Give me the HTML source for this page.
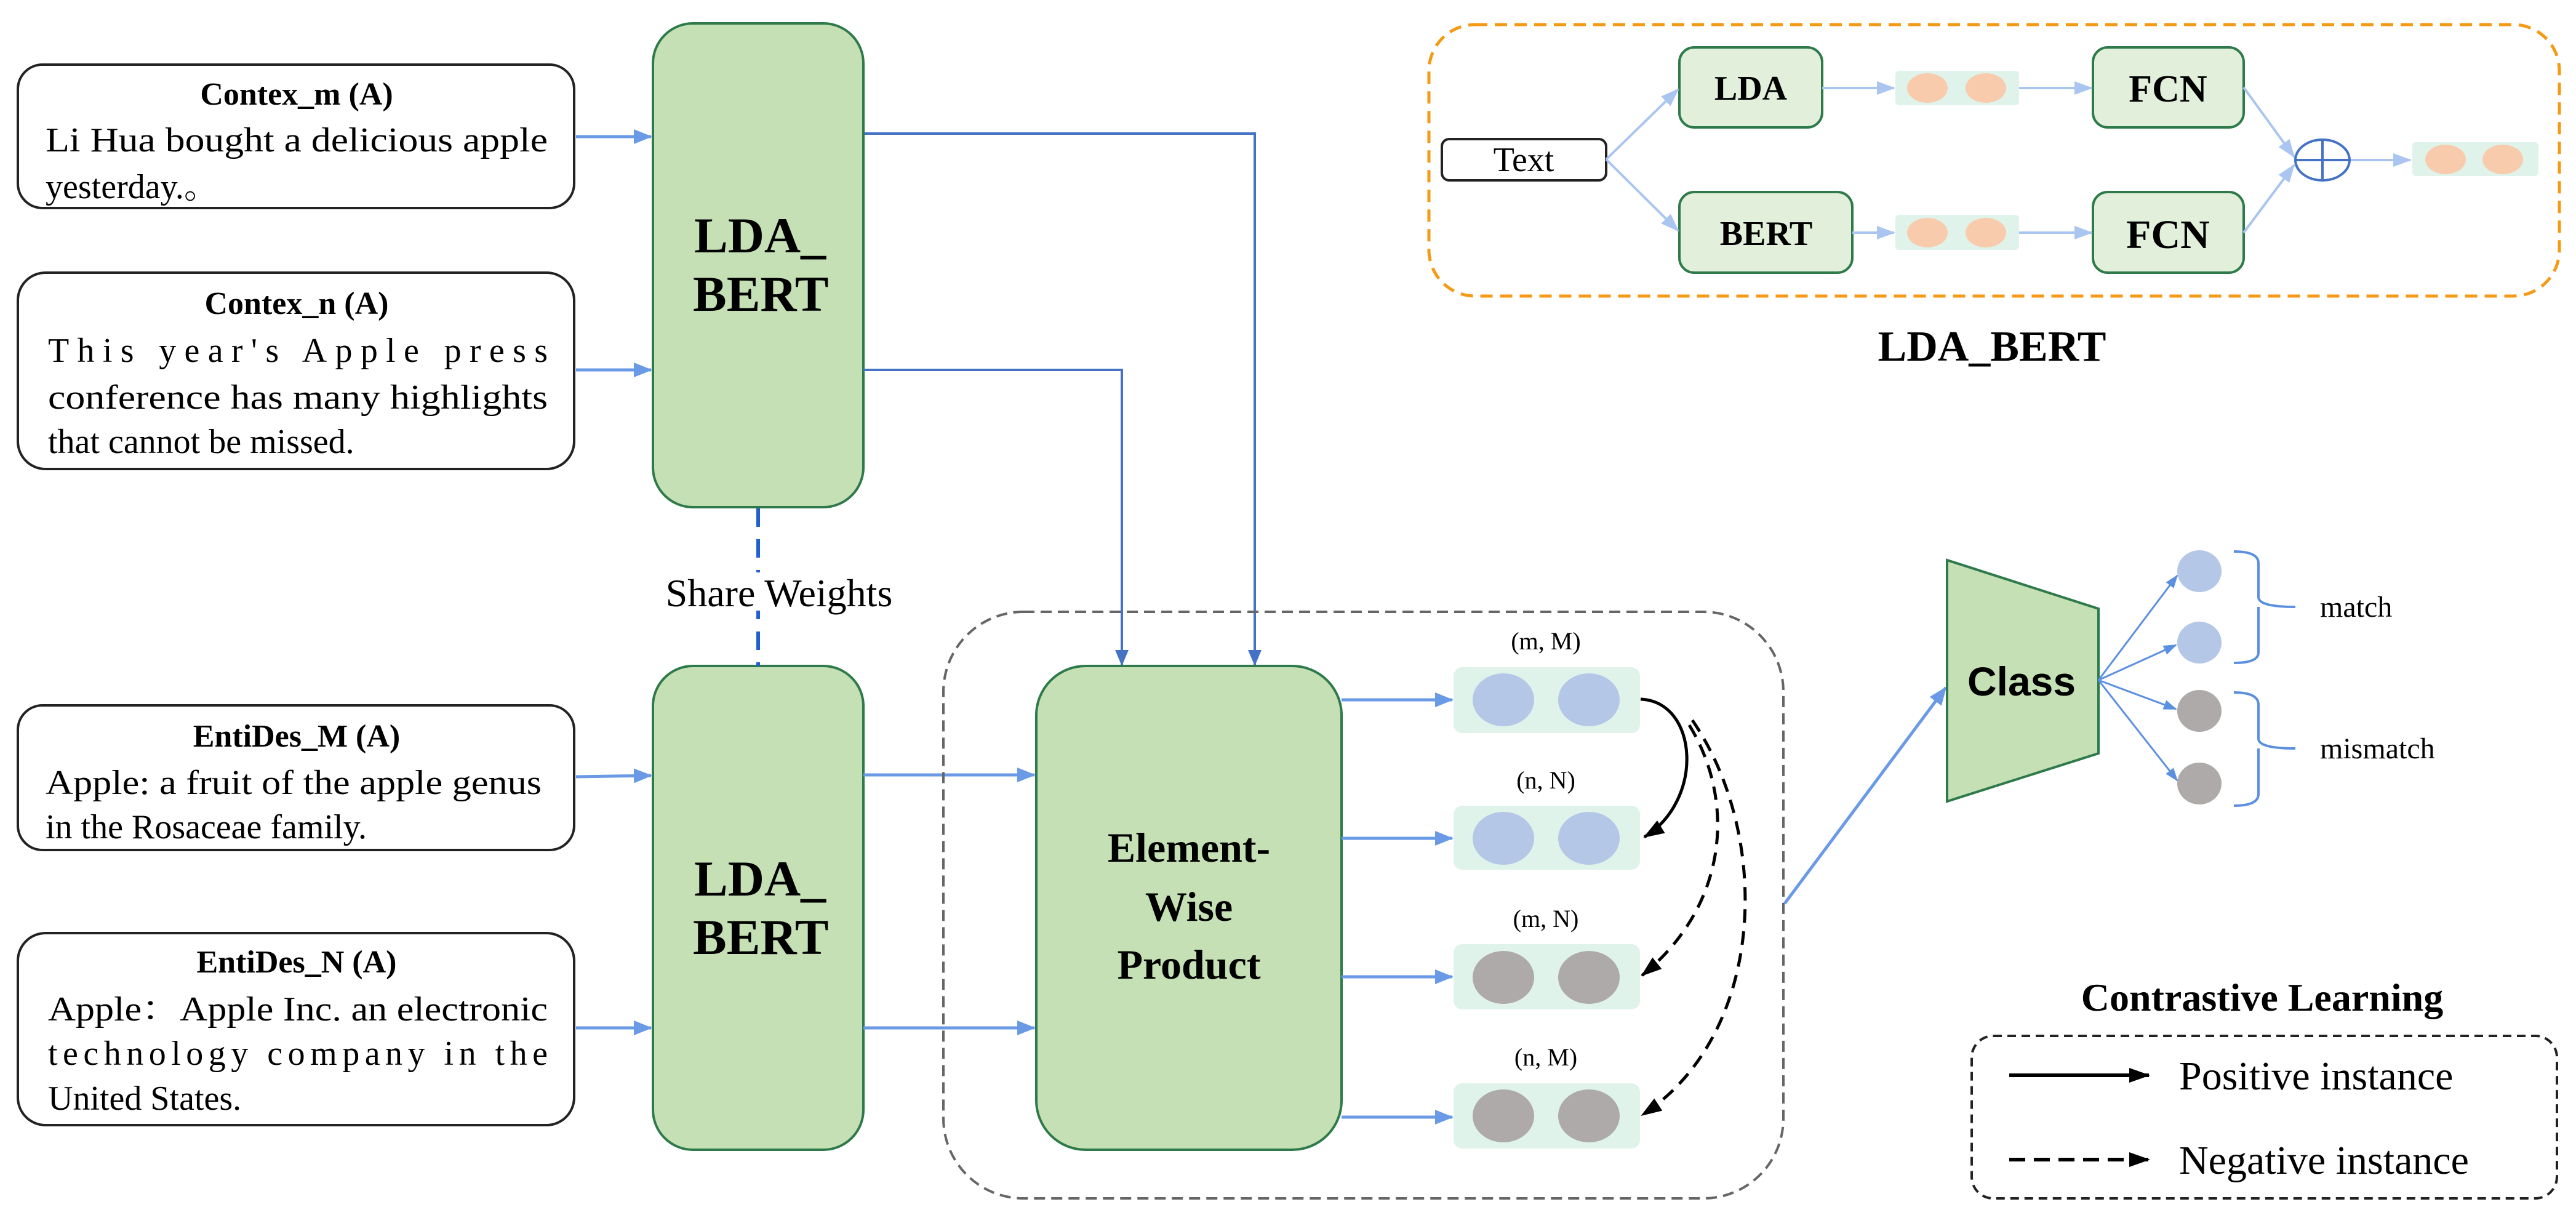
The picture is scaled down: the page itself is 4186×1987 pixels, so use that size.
<!DOCTYPE html>
<html><head><meta charset="utf-8"><style>
html,body{margin:0;padding:0;background:#fff;}
svg{display:block;}
text{font-family:"Liberation Serif","Times New Roman",serif;}
text.sans{font-family:"Liberation Sans",Arial,sans-serif;}
text.cjk{font-family:"Liberation Serif","Noto Serif CJK SC",serif;}
</style></head><body>
<svg width="4186" height="1987" viewBox="0 0 4186 1987" xmlns="http://www.w3.org/2000/svg" font-family="Liberation Serif, serif">
<defs>
<marker id="abL" markerWidth="30" markerHeight="30" refX="28" refY="15" orient="auto" markerUnits="userSpaceOnUse" viewBox="0 0 30 30"><path d="M0,3L30,15L0,27z" fill="#6a9ae6"/></marker>
<marker id="abD" markerWidth="26" markerHeight="30" refX="24" refY="15" orient="auto" markerUnits="userSpaceOnUse" viewBox="0 0 26 30"><path d="M0,4L26,15L0,26z" fill="#4472c4"/></marker>
<marker id="abP" markerWidth="30" markerHeight="30" refX="28" refY="15" orient="auto" markerUnits="userSpaceOnUse" viewBox="0 0 30 30"><path d="M0,4L30,15L0,26z" fill="#a9c5f0"/></marker>
<marker id="abK" markerWidth="34" markerHeight="30" refX="32" refY="15" orient="auto" markerUnits="userSpaceOnUse" viewBox="0 0 34 30"><path d="M0,3L34,15L0,27z" fill="#000"/></marker>
<marker id="abS" markerWidth="22" markerHeight="22" refX="20" refY="11" orient="auto" markerUnits="userSpaceOnUse" viewBox="0 0 22 22"><path d="M0,3L22,11L0,19z" fill="#5b8fe0"/></marker>
</defs>

<g stroke="#222" stroke-width="4" fill="#fff">
<rect x="29" y="105" width="904" height="233" rx="40"/>
<rect x="29" y="443" width="904" height="319" rx="45"/>
<rect x="29" y="1146" width="904" height="235" rx="40"/>
<rect x="29" y="1516" width="904" height="312" rx="45"/>
</g>
<g font-size="56" fill="#000">
<text x="482" y="170" text-anchor="middle" font-weight="bold" font-size="52">Contex_m (A)</text>
<text x="74" y="246" textLength="816" lengthAdjust="spacingAndGlyphs">Li Hua bought a delicious apple</text>
<text x="74" y="322" class="cjk">yesterday.。</text>
<text x="482" y="510" text-anchor="middle" font-weight="bold" font-size="52">Contex_n (A)</text>
<text x="78" y="588" textLength="812" lengthAdjust="spacing">This year's Apple press</text>
<text x="78" y="664" textLength="812" lengthAdjust="spacingAndGlyphs">conference has many highlights</text>
<text x="78" y="736">that cannot be missed.</text>
<text x="482" y="1213" text-anchor="middle" font-weight="bold" font-size="52">EntiDes_M (A)</text>
<text x="74" y="1290" textLength="806" lengthAdjust="spacingAndGlyphs">Apple: a fruit of the apple genus</text>
<text x="74" y="1362">in the Rosaceae family.</text>
<text x="482" y="1580" text-anchor="middle" font-weight="bold" font-size="52">EntiDes_N (A)</text>
<text x="78" y="1658" textLength="812" lengthAdjust="spacingAndGlyphs" class="cjk">Apple：Apple Inc. an electronic</text>
<text x="78" y="1730" textLength="812" lengthAdjust="spacing">technology company in the</text>
<text x="78" y="1803">United States.</text>
</g>

<g fill="#c5e0b4" stroke="#2e7a4a" stroke-width="4">
<rect x="1061" y="38" width="342" height="786" rx="65"/>
<rect x="1061" y="1082" width="342" height="786" rx="65"/>
</g>
<g font-weight="bold" font-size="82">
<text x="1128" y="410">LDA_</text>
<text x="1126" y="505">BERT</text>
<text x="1128" y="1455">LDA_</text>
<text x="1126" y="1550">BERT</text>
</g>

<g stroke="#6a9ae6" stroke-width="5" fill="none">
<line x1="936" y1="222" x2="1058" y2="222" marker-end="url(#abL)"/>
<line x1="936" y1="601" x2="1058" y2="601" marker-end="url(#abL)"/>
<line x1="936" y1="1262" x2="1058" y2="1260" marker-end="url(#abL)"/>
<line x1="936" y1="1670" x2="1058" y2="1670" marker-end="url(#abL)"/>
<line x1="1403" y1="1259" x2="1681" y2="1259" marker-end="url(#abL)"/>
<line x1="1403" y1="1670" x2="1681" y2="1670" marker-end="url(#abL)"/>
</g>
<g stroke="#4472c4" stroke-width="4" fill="none">
<polyline points="1405,217 2039,217 2039,1080" marker-end="url(#abD)"/>
<polyline points="1403,601 1823,601 1823,1080" marker-end="url(#abD)"/>
</g>
<line x1="1232" y1="826" x2="1232" y2="1082" stroke="#1f5fcf" stroke-width="6" stroke-dasharray="30,20"/>
<rect x="1035" y="930" width="462" height="62" fill="#fff"/>
<text x="1266" y="985" text-anchor="middle" font-size="64">Share Weights</text>

<rect x="1533" y="994" width="1365" height="953" rx="130" fill="none" stroke="#666" stroke-width="4" stroke-dasharray="18,10"/>

<rect x="1684" y="1082" width="496" height="786" rx="80" fill="#c5e0b4" stroke="#2e7a4a" stroke-width="4"/>
<g font-weight="bold" font-size="68" text-anchor="middle">
<text x="1932" y="1400">Element-</text>
<text x="1932" y="1496">Wise</text>
<text x="1932" y="1590">Product</text>
</g>

<g fill="#dff3ea">
<rect x="2362" y="1084" width="303" height="107" rx="14"/>
<rect x="2362" y="1309" width="303" height="104" rx="14"/>
<rect x="2362" y="1534" width="303" height="106" rx="14"/>
<rect x="2362" y="1760" width="303" height="106" rx="14"/>
</g>
<g fill="#b4c7e7">
<ellipse cx="2443" cy="1137" rx="50" ry="43"/><ellipse cx="2582" cy="1137" rx="50" ry="43"/>
<ellipse cx="2443" cy="1362" rx="50" ry="43"/><ellipse cx="2582" cy="1362" rx="50" ry="43"/>
</g>
<g fill="#aeaaaa">
<ellipse cx="2443" cy="1588" rx="50" ry="43"/><ellipse cx="2582" cy="1588" rx="50" ry="43"/>
<ellipse cx="2443" cy="1813" rx="50" ry="43"/><ellipse cx="2582" cy="1813" rx="50" ry="43"/>
</g>
<g font-size="40" text-anchor="middle">
<text x="2512" y="1055">(m, M)</text>
<text x="2512" y="1281">(n, N)</text>
<text x="2512" y="1506">(m, N)</text>
<text x="2512" y="1731">(n, M)</text>
</g>
<g stroke="#6a9ae6" stroke-width="5">
<line x1="2180" y1="1137" x2="2360" y2="1137" marker-end="url(#abL)"/>
<line x1="2180" y1="1362" x2="2360" y2="1362" marker-end="url(#abL)"/>
<line x1="2180" y1="1587" x2="2360" y2="1587" marker-end="url(#abL)"/>
<line x1="2180" y1="1815" x2="2360" y2="1815" marker-end="url(#abL)"/>
</g>
<g fill="none" stroke="#000" stroke-width="5">
<path d="M2666,1136 C2760,1140 2770,1300 2672,1360" marker-end="url(#abK)"/>
<path d="M2745,1178 C2820,1300 2810,1470 2668,1585" stroke-dasharray="22,14" marker-end="url(#abK)"/>
<path d="M2750,1170 C2880,1360 2870,1680 2668,1812" stroke-dasharray="22,14" marker-end="url(#abK)"/>
</g>

<line x1="2900" y1="1468" x2="3162" y2="1117" stroke="#6a9ae6" stroke-width="5" marker-end="url(#abL)"/>
<polygon points="3164,910 3410,989 3410,1224 3164,1302" fill="#c5e0b4" stroke="#2e7a4a" stroke-width="4"/>
<text x="3285" y="1130" text-anchor="middle" class="sans" font-weight="bold" font-size="66">Class</text>
<g stroke="#5b8fe0" stroke-width="3">
<line x1="3410" y1="1105" x2="3538" y2="935" marker-end="url(#abS)"/>
<line x1="3410" y1="1105" x2="3536" y2="1048" marker-end="url(#abS)"/>
<line x1="3410" y1="1105" x2="3536" y2="1152" marker-end="url(#abS)"/>
<line x1="3410" y1="1105" x2="3538" y2="1268" marker-end="url(#abS)"/>
</g>
<ellipse cx="3574" cy="928" rx="36" ry="34" fill="#b4c7e7"/>
<ellipse cx="3574" cy="1044" rx="36" ry="34" fill="#b4c7e7"/>
<ellipse cx="3574" cy="1155" rx="36" ry="34" fill="#aeaaaa"/>
<ellipse cx="3574" cy="1273" rx="36" ry="34" fill="#aeaaaa"/>
<g fill="none" stroke="#5b8fe0" stroke-width="4">
<path d="M3630,896 Q3670,896 3670,915 L3670,970 Q3670,986 3730,986 M3670,986 L3670,1060 Q3670,1077 3630,1077"/>
<path d="M3630,1125 Q3670,1125 3670,1145 L3670,1200 Q3670,1216 3730,1216 M3670,1216 L3670,1290 Q3670,1309 3630,1309"/>
</g>
<g font-size="48">
<text x="3770" y="1002">match</text>
<text x="3770" y="1232">mismatch</text>
</g>

<text x="3676" y="1642" text-anchor="middle" font-weight="bold" font-size="64">Contrastive Learning</text>
<rect x="3204" y="1683" width="951" height="264" rx="35" fill="none" stroke="#222" stroke-width="4" stroke-dasharray="14,9"/>
<line x1="3265" y1="1747" x2="3492" y2="1747" stroke="#000" stroke-width="6" marker-end="url(#abK)"/>
<line x1="3265" y1="1884" x2="3492" y2="1884" stroke="#000" stroke-width="6" stroke-dasharray="26,14" marker-end="url(#abK)"/>
<g font-size="66">
<text x="3541" y="1770">Positive instance</text>
<text x="3541" y="1907">Negative instance</text>
</g>

<rect x="2322" y="40" width="1837" height="441" rx="75" fill="none" stroke="#f59a14" stroke-width="5" stroke-dasharray="20,12"/>
<rect x="2343" y="226" width="267" height="67" rx="12" fill="#fff" stroke="#222" stroke-width="4"/>
<text x="2476" y="278" text-anchor="middle" font-size="56">Text</text>
<g fill="#e2efda" stroke="#2e7a4a" stroke-width="4">
<rect x="2729" y="77" width="232" height="130" rx="24"/>
<rect x="2729" y="312" width="281" height="131" rx="24"/>
<rect x="3401" y="77" width="245" height="130" rx="24"/>
<rect x="3401" y="312" width="245" height="131" rx="24"/>
</g>
<g font-weight="bold" text-anchor="middle">
<text x="2845" y="162" font-size="56">LDA</text>
<text x="2870" y="398" font-size="56">BERT</text>
<text x="3523" y="165" font-size="62">FCN</text>
<text x="3523" y="403" font-size="66">FCN</text>
</g>
<g fill="#dff3ea">
<rect x="3080" y="115" width="201" height="56" rx="6"/>
<rect x="3080" y="349" width="201" height="57" rx="6"/>
<rect x="3920" y="231" width="205" height="55" rx="6"/>
</g>
<g fill="#f8cbad">
<ellipse cx="3132" cy="143" rx="33" ry="24"/><ellipse cx="3227" cy="143" rx="33" ry="24"/>
<ellipse cx="3132" cy="378" rx="33" ry="24"/><ellipse cx="3227" cy="378" rx="33" ry="24"/>
<ellipse cx="3974" cy="259" rx="33" ry="24"/><ellipse cx="4067" cy="259" rx="33" ry="24"/>
</g>
<g stroke="#a9c5f0" stroke-width="4" fill="none">
<line x1="2610" y1="259" x2="2727" y2="145" marker-end="url(#abP)"/>
<line x1="2610" y1="259" x2="2727" y2="375" marker-end="url(#abP)"/>
<line x1="2961" y1="143" x2="3078" y2="143" marker-end="url(#abP)"/>
<line x1="3010" y1="378" x2="3078" y2="378" marker-end="url(#abP)"/>
<line x1="3281" y1="143" x2="3399" y2="143" marker-end="url(#abP)"/>
<line x1="3281" y1="378" x2="3399" y2="378" marker-end="url(#abP)"/>
<line x1="3646" y1="142" x2="3728" y2="255" marker-end="url(#abP)"/>
<line x1="3646" y1="378" x2="3728" y2="268" marker-end="url(#abP)"/>
<line x1="3819" y1="260" x2="3917" y2="260" marker-end="url(#abP)"/>
</g>
<g stroke="#4472c4" stroke-width="4" fill="none">
<ellipse cx="3774" cy="260" rx="44" ry="33"/>
<line x1="3730" y1="260" x2="3818" y2="260"/>
<line x1="3774" y1="227" x2="3774" y2="293"/>
</g>
<text x="3237" y="586" text-anchor="middle" font-weight="bold" font-size="70">LDA_BERT</text>
</svg>
</body></html>
